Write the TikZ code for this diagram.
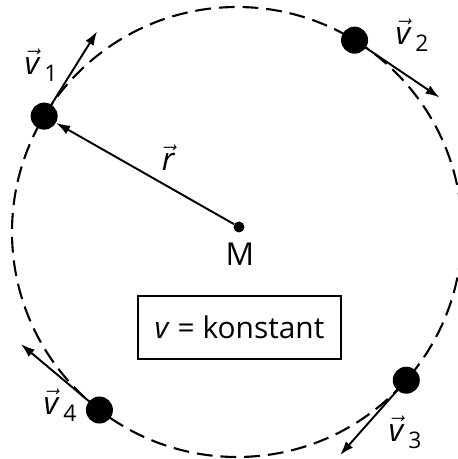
\documentclass[tikz,border=0pt]{standalone}
\usepackage{fontspec}
\setmainfont{Open Sans}
\usetikzlibrary{arrows.meta,positioning}

\newcommand{\vlab}[1]{$\vec{\textit{v}}$\hspace{3pt}\raisebox{-4pt}{\fontsize{13}{15}\selectfont #1}}

\begin{document}
\begin{tikzpicture}[
  mass/.style={circle, fill=black, inner sep=0pt, minimum size=5.4mm},
  centre/.style={circle, fill=black, inner sep=0pt, minimum size=2.2mm},
  orbit/.style={line width=1.2pt, dash pattern=on 9pt off 4.5pt},
  arrow/.style={-{Latex[length=2.8mm, width=1.9mm]}, line width=1.1pt},
  lbl/.style={inner sep=0pt, font=\fontsize{18}{21}\selectfont},
  box/.style={draw, line width=1.1pt, minimum width=4.06cm, minimum height=1.26cm, font=\fontsize{17}{20}\selectfont}
]
\useasboundingbox (-4.74,-4.54) rectangle (4.42,4.64);
\draw[orbit] (0,0) circle (4.5);

\node[centre] (M) at (0.04,0.1) {};
\node[lbl] (Mlab) at (0.06,-0.44) {M};
\node[box] (const) at (0.05,-1.91) {\textit{v} = konstant};

\node[mass] (m1) at (149:4.5) {};
\node[mass] (m2) at (58.5:4.5) {};
\node[mass] (m3) at (-41.2:4.5) {};
\node[mass] (m4) at (232.3:4.5) {};

\coordinate (t1) at ([shift={(58:2)}]m1.center);
\coordinate (t2) at ([shift={(-34:2.05)}]m2.center);
\coordinate (t3) at ([shift={(-131.5:2)}]m3.center);
\coordinate (t4) at ([shift={(140:2.05)}]m4.center);

\draw[arrow] (m1.center) -- (t1);
\draw[arrow] (m2.center) -- (t2);
\draw[arrow] (m3.center) -- (t3);
\draw[arrow] (m4.center) -- (t4);
\draw[arrow] (M) -- (m1);

\node[lbl] (v1) at (-3.92,3.34) {\vlab{1}};
\node[lbl] (v2) at (3.5,3.94) {\vlab{2}};
\node[lbl] (v3) at (3.36,-4.0) {\vlab{3}};
\node[lbl] (v4) at (-3.54,-3.46) {\vlab{4}};
\node[lbl] (r) at (-1.38,1.48) {$\vec{\textit{r}}$};
\end{tikzpicture}
\end{document}
